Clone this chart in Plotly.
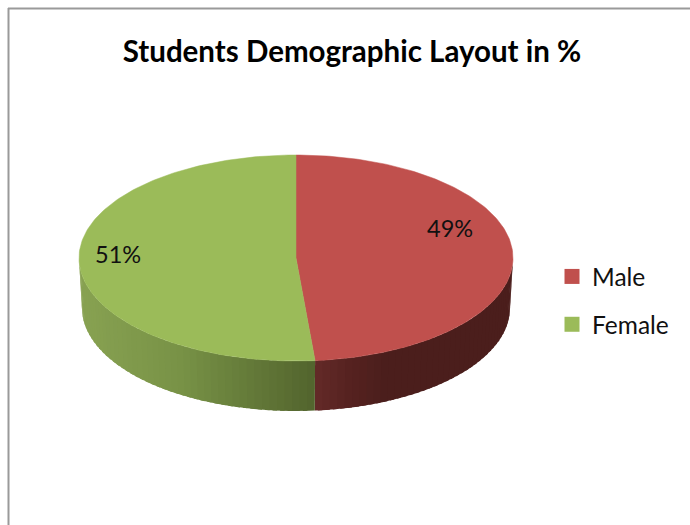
import math
import plotly.graph_objects as go

categories = ["Male", "Female"]
values = [48.6, 51.4]
top_colors = ["#C0504D", "#9BBB59"]
title_text = "Students Demographic Layout in %"

W, H = 690, 525
CX, CY, RX, RY = 296, 258, 217, 103
DEPTH, RX_BOTTOM = 50, 214
FONT = "Lato"


def pt(deg, rx, cy):
    a = math.radians(deg)
    return CX + rx * math.sin(a), cy - RY * math.cos(a)


def mix(stops, t):
    for (t0, c0), (t1, c1) in zip(stops, stops[1:]):
        if t <= t1:
            f = 0 if t1 == t0 else max(0, (t - t0) / (t1 - t0))
            return "rgb(%d,%d,%d)" % tuple(round(p + (q - p) * f) for p, q in zip(c0, c1))
    return "rgb(%d,%d,%d)" % stops[-1][1]


side_stops = {
    "Male": [(315, (100, 42, 40)), (350, (86, 34, 32)), (385, (75, 30, 28)), (520, (75, 30, 28))],
    "Female": [(78, (136, 162, 82)), (180, (120, 146, 70)), (315, (82, 100, 45))],
}

fig = go.Figure()
total = sum(values)
start = 0
spans = []
for name, val in zip(categories, values):
    end = start + val / total * 360
    spans.append((name, start, end))
    start = end

# Visible side wall: strips along the front half of the pie, each overlapping the next
for name, a0, a1 in spans:
    lo, hi = max(a0, 90), min(a1, 270)
    if hi <= lo:
        continue
    n = max(1, int((hi - lo) / 2))
    for i in range(n):
        s = lo + (hi - lo) * i / n
        e = min(hi, lo + (hi - lo) * (i + 1.6) / n)
        mid = lo + (hi - lo) * (i + 0.5) / n
        arc = [s + (e - s) * k / 4 for k in range(5)]
        p = [pt(a, RX, CY) for a in arc] + [pt(a, RX_BOTTOM, CY + DEPTH) for a in reversed(arc)]
        p.append(p[0])
        col = mix(side_stops[name], pt(mid, RX, CY)[0])
        fig.add_trace(go.Scatter(x=[q[0] for q in p], y=[q[1] for q in p], mode="lines", fill="toself",
                                 fillcolor=col, line=dict(width=0),
                                 showlegend=False, hoverinfo="skip"))

# Top faces
for (name, a0, a1), col in zip(spans, top_colors):
    n = int(a1 - a0) + 1
    arc = [pt(a0 + (a1 - a0) * i / n, RX, CY) for i in range(n + 1)]
    xs = [CX] + [q[0] for q in arc] + [CX]
    ys = [CY] + [q[1] for q in arc] + [CY]
    fig.add_trace(go.Scatter(x=xs, y=ys, mode="lines", fill="toself", fillcolor=col,
                             line=dict(color=col, width=0.5), showlegend=False, name=name,
                             hoverinfo="name"))

# Legend entries
for name, col in zip(categories, top_colors):
    fig.add_trace(go.Scatter(x=[None], y=[None], mode="markers", name=name, legendgroup=name,
                             marker=dict(symbol="square", size=15, color=col)))

label_pos = {"Male": (450, 228), "Female": (118, 254)}
annotations = [
    dict(x=label_pos[n][0], y=label_pos[n][1], text=f"{round(v)}%", showarrow=False,
         font=dict(family=FONT, size=23.5, color="#111111"), xref="x", yref="y")
    for n, v in zip(categories, values)
]

fig.update_layout(
    width=W, height=H, autosize=False,
    margin=dict(l=0, r=0, t=0, b=0),
    paper_bgcolor="white", plot_bgcolor="white",
    title=dict(text=f"<b>{title_text}</b>", x=352 / W, xanchor="center", y=1 - 52 / H, yanchor="middle",
               font=dict(family=FONT, size=29.5, color="black")),
    xaxis=dict(range=[0, W], visible=False, fixedrange=True),
    yaxis=dict(range=[H, 0], visible=False, fixedrange=True),
    legend=dict(x=552 / W, y=1 - 254 / H, xanchor="left", yanchor="top", tracegroupgap=13,
                font=dict(family=FONT, size=24.5, color="#111111"), bgcolor="rgba(0,0,0,0)",
                itemsizing="trace"),
    annotations=annotations,
    shapes=[
        dict(type="line", xref="x", yref="y", x0=8.5, x1=8.5, y0=8, y1=H, line=dict(color="#9a9a9a", width=2)),
        dict(type="line", xref="x", yref="y", x0=8, x1=W, y0=8.5, y1=8.5, line=dict(color="#9a9a9a", width=2)),
    ],
)
fig.write_html("out.html", config=dict(displayModeBar=False),
               post_script="document.documentElement.style.overflow='hidden';document.body.style.margin='0';")
